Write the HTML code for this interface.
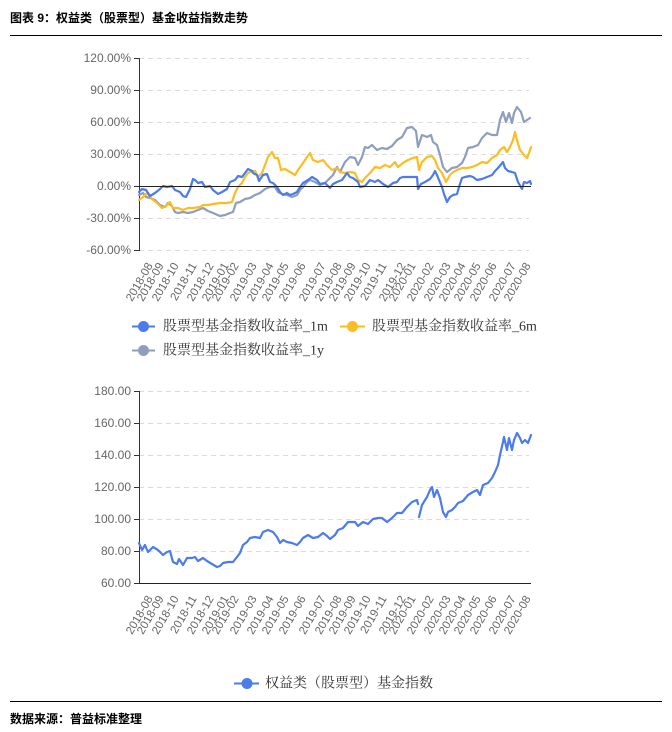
<!DOCTYPE html>
<html>
<head>
<meta charset="utf-8">
<style>
html,body{margin:0;padding:0;background:#fff;}
svg{display:block;}
.yl{font-family:"Liberation Sans","Noto Sans CJK SC",sans-serif;font-size:12px;fill:#666;text-anchor:end;dominant-baseline:central;}
.xl{font-family:"Liberation Sans","Noto Sans CJK SC",sans-serif;font-size:11.5px;fill:#666;text-anchor:end;dominant-baseline:central;}
.lg{font-family:"Liberation Serif","Noto Serif CJK SC",serif;font-size:14px;fill:#333;dominant-baseline:central;}
.tt{font-family:"Liberation Sans","Noto Sans CJK SC",sans-serif;font-size:12px;font-weight:bold;fill:#000;dominant-baseline:central;}
.grid{stroke:#dcdcdc;stroke-width:1;stroke-dasharray:5,4;}
.ser{fill:none;stroke-width:2.2;stroke-linejoin:round;stroke-linecap:round;}
</style>
</head>
<body>
<svg width="672" height="732" viewBox="0 0 672 732" xmlns="http://www.w3.org/2000/svg">
<rect width="672" height="732" fill="#fff"/>

<!-- Title -->
<text class="tt" x="10" y="18">图表 9：权益类（股票型）基金收益指数走势</text>
<line x1="10" y1="35.5" x2="662" y2="35.5" stroke="#000" stroke-width="1"/>

<!-- ===== Top chart ===== -->
<g>
<line class="grid" x1="139" y1="58.5" x2="529" y2="58.5"/>
<line class="grid" x1="139" y1="90.5" x2="529" y2="90.5"/>
<line class="grid" x1="139" y1="122.5" x2="529" y2="122.5"/>
<line class="grid" x1="139" y1="154.5" x2="529" y2="154.5"/>
<line class="grid" x1="139" y1="218.5" x2="529" y2="218.5"/>
<line class="grid" x1="139" y1="250.5" x2="529" y2="250.5"/>
<line x1="139.5" y1="58" x2="139.5" y2="251" stroke="#333" stroke-width="1"/>
<g stroke="#333" stroke-width="1">
<line x1="134" y1="58.5" x2="139" y2="58.5"/>
<line x1="134" y1="90.5" x2="139" y2="90.5"/>
<line x1="134" y1="122.5" x2="139" y2="122.5"/>
<line x1="134" y1="154.5" x2="139" y2="154.5"/>
<line x1="134" y1="186.5" x2="139" y2="186.5"/>
<line x1="134" y1="218.5" x2="139" y2="218.5"/>
<line x1="134" y1="250.5" x2="139" y2="250.5"/>
</g>
<text class="yl" x="131" y="58">120.00%</text>
<text class="yl" x="131" y="90">90.00%</text>
<text class="yl" x="131" y="122">60.00%</text>
<text class="yl" x="131" y="154">30.00%</text>
<text class="yl" x="131" y="186">0.00%</text>
<text class="yl" x="131" y="218">-30.00%</text>
<text class="yl" x="131" y="250">-60.00%</text>

<polyline class="ser" stroke="#8f9dbe" points="139,195 143,193 146,197 150,198 155,200 160,205 165,207 168,203 172,206 175,212 178,213 183,212 188,213 193,212 198,210 203,208 208,211 213,213 220,216 225,215 230,213 233,212 236,203 240,202 245,199 250,198 255,195 260,193 265,189 270,187 275,187 278,192 282,194 287,195 292,197 297,195 300,190 303,187 307,182 310,180 315,182 320,185 325,183 330,178 333,175 337,167 340,172 345,162 350,157 355,158 358,165 362,157 365,147 368,148 372,145 377,150 382,148 387,149 392,146 397,140 402,137 407,128 412,127 416,131 418,147 422,135 427,137 431,135 433,142 437,145 440,155 443,167 447,172 452,168 457,167 462,163 465,157 468,148 473,147 478,145 482,138 487,133 492,135 497,135 500,120 503,112 506,122 509,113 512,123 514,113 517,107 521,112 524,122 527,120 530,118"/>
<polyline class="ser" stroke="#fbbd22" points="139,200 143,197 147,193 152,199 157,203 162,208 166,206 170,202 173,208 178,208 183,210 188,208 193,208 200,207 203,205 208,205 213,204 220,203 227,203 232,202 235,193 238,187 242,183 245,177 248,173 252,171 255,171 258,177 262,173 265,165 268,157 272,152 275,158 278,158 281,170 285,169 290,172 295,175 298,170 303,163 307,157 310,153 313,160 318,162 323,160 327,165 332,170 337,168 340,172 345,173 350,172 355,173 358,180 362,182 365,178 370,173 375,167 380,168 385,165 390,167 395,162 398,167 403,163 408,160 413,158 417,157 419,170 422,162 427,157 432,156 435,160 438,168 442,173 446,182 450,175 453,172 457,170 462,168 467,168 472,167 477,165 482,162 487,163 492,158 497,155 500,150 504,147 507,152 510,147 513,140 515,132 517,140 520,150 524,155 527,158 529,153 531,147"/>
<polyline class="ser" stroke="#4b7bec" points="139,192 142,189 146,190 150,196 155,193 160,189 163,186 167,187 172,186 175,190 180,192 183,196 186,197 190,189 193,179 195,180 198,183 202,182 205,187 210,186 213,190 218,194 222,192 227,189 230,182 235,180 238,176 242,177 245,173 248,169 252,171 253,173 257,175 259,181 263,175 267,174 270,182 273,183 277,187 280,192 283,195 287,193 290,195 293,194 297,192 300,187 303,183 308,180 312,177 317,180 320,184 325,183 330,188 333,184 337,182 342,180 347,173 350,177 353,178 358,182 360,187 365,186 370,180 375,182 378,180 383,184 388,187 393,183 397,182 400,178 403,177 408,177 413,177 417,177 418,189 421,184 425,182 430,179 433,175 435,171 437,175 439,180 442,187 444,194 447,202 450,197 453,195 457,194 459,187 462,178 465,177 470,176 473,177 477,180 482,179 487,177 492,175 495,171 498,168 503,162 505,168 508,171 512,172 515,173 518,182 522,189 524,182 527,183 530,181 531,184"/>
<line x1="139" y1="186.5" x2="531" y2="186.5" stroke="#222" stroke-width="1"/>

<g class="xl">
<text transform="translate(150.5,264) rotate(-60)">2018-08</text>
<text transform="translate(161.5,264) rotate(-60)">2018-09</text>
<text transform="translate(176.5,264) rotate(-60)">2018-10</text>
<text transform="translate(194.5,264) rotate(-60)">2018-11</text>
<text transform="translate(211.5,264) rotate(-60)">2018-12</text>
<text transform="translate(226.5,264) rotate(-60)">2019-01</text>
<text transform="translate(236.5,264) rotate(-60)">2019-02</text>
<text transform="translate(254.5,264) rotate(-60)">2019-03</text>
<text transform="translate(271.5,264) rotate(-60)">2019-04</text>
<text transform="translate(286.5,264) rotate(-60)">2019-05</text>
<text transform="translate(303.5,264) rotate(-60)">2019-06</text>
<text transform="translate(323.5,264) rotate(-60)">2019-07</text>
<text transform="translate(339.5,264) rotate(-60)">2019-08</text>
<text transform="translate(353.5,264) rotate(-60)">2019-09</text>
<text transform="translate(368.5,264) rotate(-60)">2019-10</text>
<text transform="translate(384.5,264) rotate(-60)">2019-11</text>
<text transform="translate(403.5,264) rotate(-60)">2019-12</text>
<text transform="translate(413.5,264) rotate(-60)">2020-01</text>
<text transform="translate(431.5,264) rotate(-60)">2020-02</text>
<text transform="translate(448.5,264) rotate(-60)">2020-03</text>
<text transform="translate(463.5,264) rotate(-60)">2020-04</text>
<text transform="translate(478.5,264) rotate(-60)">2020-05</text>
<text transform="translate(494.5,264) rotate(-60)">2020-06</text>
<text transform="translate(513.5,264) rotate(-60)">2020-07</text>
<text transform="translate(528.5,264) rotate(-60)">2020-08</text>
</g>

<!-- legend top -->
<line x1="132" y1="326.5" x2="155" y2="326.5" stroke="#4b7bec" stroke-width="2"/>
<circle cx="143.5" cy="326.5" r="5.5" fill="#4b7bec"/>
<text class="lg" x="163" y="327">股票型基金指数收益率_1m</text>
<line x1="340" y1="326.5" x2="365" y2="326.5" stroke="#fbbd22" stroke-width="2"/>
<circle cx="352.5" cy="326.5" r="5.5" fill="#fbbd22"/>
<text class="lg" x="372" y="327">股票型基金指数收益率_6m</text>
<line x1="132" y1="350.5" x2="155" y2="350.5" stroke="#8f9dbe" stroke-width="2"/>
<circle cx="143.5" cy="350.5" r="5.5" fill="#8f9dbe"/>
<text class="lg" x="163" y="351">股票型基金指数收益率_1y</text>
</g>

<!-- ===== Bottom chart ===== -->
<g>
<line class="grid" x1="139" y1="391.5" x2="529" y2="391.5"/>
<line class="grid" x1="139" y1="423.5" x2="529" y2="423.5"/>
<line class="grid" x1="139" y1="455.5" x2="529" y2="455.5"/>
<line class="grid" x1="139" y1="487.5" x2="529" y2="487.5"/>
<line class="grid" x1="139" y1="519.5" x2="529" y2="519.5"/>
<line class="grid" x1="139" y1="551.5" x2="529" y2="551.5"/>
<line x1="139.5" y1="391" x2="139.5" y2="584" stroke="#333" stroke-width="1"/>
<g stroke="#333" stroke-width="1">
<line x1="134" y1="391.5" x2="139" y2="391.5"/>
<line x1="134" y1="423.5" x2="139" y2="423.5"/>
<line x1="134" y1="455.5" x2="139" y2="455.5"/>
<line x1="134" y1="487.5" x2="139" y2="487.5"/>
<line x1="134" y1="519.5" x2="139" y2="519.5"/>
<line x1="134" y1="551.5" x2="139" y2="551.5"/>
<line x1="134" y1="583.5" x2="139" y2="583.5"/>
</g>
<text class="yl" x="131" y="391">180.00</text>
<text class="yl" x="131" y="423">160.00</text>
<text class="yl" x="131" y="455">140.00</text>
<text class="yl" x="131" y="487">120.00</text>
<text class="yl" x="131" y="519">100.00</text>
<text class="yl" x="131" y="551">80.00</text>
<text class="yl" x="131" y="583">60.00</text>

<polyline class="ser" stroke="#4b7bec" points="139,543 142,550 145,545 148,552 153,547 158,550 163,555 167,552 170,551 173,562 177,564 179,559 183,565 187,558 192,558 195,557 198,561 203,558 207,561 212,564 217,567 220,566 223,563 228,562 233,562 237,557 240,553 243,545 247,542 250,538 255,537 260,538 263,532 268,530 273,532 277,537 280,543 283,540 287,542 292,543 297,545 300,542 303,538 308,535 313,538 318,537 323,533 327,536 330,539 335,535 338,530 343,528 348,522 355,522 358,526 363,522 368,524 373,519 378,518 382,518 387,522 392,518 397,513 402,513 407,507 412,502 417,500 418,504"/>
<polyline class="ser" stroke="#4b7bec" points="419,517 422,505 427,497 430,490 432,487 434,497 437,490 440,498 443,512 446,517 448,512 452,510 455,507 458,503 463,501 468,495 473,492 477,490 480,495 483,485 488,483 492,478 495,472 498,465 500,455 503,442 504,437 507,450 509,438 512,450 514,440 517,433 520,438 522,443 525,440 528,443 531,435"/>
<line x1="139" y1="583.5" x2="531" y2="583.5" stroke="#222" stroke-width="1"/>

<g class="xl">
<text transform="translate(150.5,597) rotate(-60)">2018-08</text>
<text transform="translate(161.5,597) rotate(-60)">2018-09</text>
<text transform="translate(176.5,597) rotate(-60)">2018-10</text>
<text transform="translate(194.5,597) rotate(-60)">2018-11</text>
<text transform="translate(211.5,597) rotate(-60)">2018-12</text>
<text transform="translate(226.5,597) rotate(-60)">2019-01</text>
<text transform="translate(236.5,597) rotate(-60)">2019-02</text>
<text transform="translate(254.5,597) rotate(-60)">2019-03</text>
<text transform="translate(271.5,597) rotate(-60)">2019-04</text>
<text transform="translate(286.5,597) rotate(-60)">2019-05</text>
<text transform="translate(303.5,597) rotate(-60)">2019-06</text>
<text transform="translate(323.5,597) rotate(-60)">2019-07</text>
<text transform="translate(339.5,597) rotate(-60)">2019-08</text>
<text transform="translate(353.5,597) rotate(-60)">2019-09</text>
<text transform="translate(368.5,597) rotate(-60)">2019-10</text>
<text transform="translate(384.5,597) rotate(-60)">2019-11</text>
<text transform="translate(403.5,597) rotate(-60)">2019-12</text>
<text transform="translate(413.5,597) rotate(-60)">2020-01</text>
<text transform="translate(431.5,597) rotate(-60)">2020-02</text>
<text transform="translate(448.5,597) rotate(-60)">2020-03</text>
<text transform="translate(463.5,597) rotate(-60)">2020-04</text>
<text transform="translate(478.5,597) rotate(-60)">2020-05</text>
<text transform="translate(494.5,597) rotate(-60)">2020-06</text>
<text transform="translate(513.5,597) rotate(-60)">2020-07</text>
<text transform="translate(528.5,597) rotate(-60)">2020-08</text>
</g>

<!-- legend bottom -->
<line x1="234" y1="683.5" x2="259" y2="683.5" stroke="#4b7bec" stroke-width="2"/>
<circle cx="247" cy="683.5" r="5.5" fill="#4b7bec"/>
<text class="lg" x="265" y="684">权益类（股票型）基金指数</text>
</g>

<!-- Footer -->
<line x1="10" y1="701.5" x2="662" y2="701.5" stroke="#000" stroke-width="1"/>
<text class="tt" x="10" y="719">数据来源：普益标准整理</text>
</svg>
</body>
</html>
